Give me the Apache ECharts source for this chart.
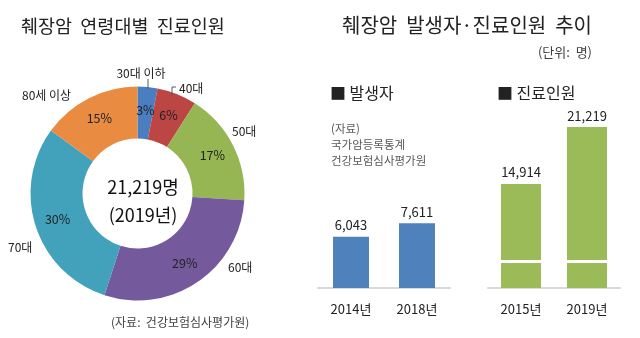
<!DOCTYPE html>
<html><head><meta charset="utf-8">
<script src="https://cdn.jsdelivr.net/npm/echarts@6/dist/echarts.min.js"></script>
<style>html,body{margin:0;padding:0;background:#fff}#c{width:640px;height:338px}</style>
</head><body><div id="c"></div>
<script>
const ageGroups = ['30대 이하', '40대', '50대', '60대', '70대', '80세 이상'];
const agePercents = [3, 6, 17, 29, 30, 15];
const totalPatients = '21,219명';
const totalYear = '(2019년)';
const incidenceYears = ['2014년', '2018년'];
const incidenceValues = [6043, 7611];
const patientYears = ['2015년', '2019년'];
const patientValues = [14914, 21219];
const patientBreak = {start: 3000, end: 6400};

const FONT = '"Noto Sans CJK KR", "Noto Sans", sans-serif';
const colors = ['#4A7EC0', '#BC4644', '#95B652', '#745A9C', '#42A2BC', '#E98C42'];
// label anchor positions for the outside category names
const nameLabelPos = [[141, 73], [179, 88], [232, 131], [228, 267], [8, 247], [22, 95]];
const nameLabelAlign = ['center', 'left', 'left', 'left', 'left', 'left'];

const chart = echarts.init(document.getElementById('c'), null, {renderer: 'canvas'});
const fmt = v => v.toLocaleString('en-US');

const option = {
  animation: false,
  textStyle: {fontFamily: FONT},
  title: [
    {text: '췌장암  연령대별  진료인원', left: 16, top: 12, textStyle: {fontFamily: FONT, fontSize: 18.5, fontWeight: 'normal', color: '#222'}},
    {text: '췌장암  발생자·진료인원  추이', left: 337, top: 10, textStyle: {fontFamily: FONT, fontSize: 20, fontWeight: 'normal', color: '#222'}},
    {text: '(단위:  명)', right: 43, top: 41, textStyle: {fontFamily: FONT, fontSize: 13, fontWeight: 'normal', color: '#404040'}},
    {text: '■ 발생자', left: 325, top: 80, textStyle: {fontFamily: FONT, fontSize: 16, fontWeight: 'normal', color: '#222'}},
    {text: '■ 진료인원', left: 492, top: 80, textStyle: {fontFamily: FONT, fontSize: 16, fontWeight: 'normal', color: '#222'}},
    {text: '(자료)\n국가암등록통계\n건강보험심사평가원', left: 326, top: 116, textStyle: {fontFamily: FONT, fontSize: 11.5, lineHeight: 16, fontWeight: 'normal', color: '#595959'}},
    {text: '(자료:  건강보험심사평가원)', left: 106, top: 311, textStyle: {fontFamily: FONT, fontSize: 12, fontWeight: 'normal', color: '#404040'}},
    {text: totalPatients + '\n' + totalYear, left: 138, top: 168, textAlign: 'center', textStyle: {fontFamily: FONT, fontSize: 18, lineHeight: 28, fontWeight: 'normal', color: '#111'}}
  ],
  grid: [
    {left: 318, width: 132, top: 118, bottom: 50},
    {left: 488, width: 132, top: 102, bottom: 50}
  ],
  xAxis: [
    {type: 'category', gridIndex: 0, data: incidenceYears, axisTick: {show: false},
     axisLine: {lineStyle: {color: '#d9d9d9', width: 2}},
     axisLabel: {fontFamily: FONT, fontSize: 13, color: '#222', margin: 15}},
    {type: 'category', gridIndex: 1, data: patientYears, axisTick: {show: false},
     axisLine: {lineStyle: {color: '#d9d9d9', width: 2}},
     axisLabel: {fontFamily: FONT, fontSize: 13, color: '#222', margin: 15}}
  ],
  yAxis: [
    {type: 'value', gridIndex: 0, min: 0, max: 20000, show: false, splitLine: {show: false}},
    {type: 'value', gridIndex: 1, min: 0, max: 24000, show: false, splitLine: {show: false}, z: 10,
     breaks: [{start: patientBreak.start, end: patientBreak.end, gap: 3}],
     breakArea: {show: true, zigzagAmplitude: 0, zigzagZ: 100, expandOnClick: false,
       itemStyle: {color: '#ffffff', borderColor: '#ffffff', borderWidth: 0, opacity: 1}}}
  ],
  series: [
    {
      type: 'pie', center: [137.5, 193.5], radius: [55, 107], startAngle: 90, clockwise: true,
      silent: true,
      data: ageGroups.map((n, i) => ({name: n, value: agePercents[i], itemStyle: {color: colors[i]}})),
      label: {position: 'inside', formatter: '{c}%', fontFamily: FONT, fontSize: 12.5, color: '#222'},
      labelLine: {show: false}
    },
    {
      type: 'pie', center: [137.5, 193.5], radius: [55, 107], startAngle: 90, clockwise: true,
      silent: true, z: 3,
      data: ageGroups.map((n, i) => ({name: n, value: agePercents[i], itemStyle: {color: 'rgba(0,0,0,0)'},
        labelLine: {show: i < 2}})),
      label: {position: 'outside', formatter: '{b}', fontFamily: FONT, fontSize: 12, color: '#222',
              overflow: 'none', width: 100, alignTo: 'none'},
      labelLine: {lineStyle: {color: '#595959', width: 1}},
      labelLayout: function (p) {
        const i = p.dataIndex;
        const res = {x: nameLabelPos[i][0], y: nameLabelPos[i][1], align: nameLabelAlign[i], verticalAlign: 'middle', hideOverlap: false, moveOverlap: false};
        if (i === 0) res.labelLinePoints = [[148, 89], [148, 84], [148, 79]];
        if (i === 1) res.labelLinePoints = [[172, 96], [172, 87], [176, 87]];
        return res;
      }
    },
    {
      type: 'bar', xAxisIndex: 0, yAxisIndex: 0, data: incidenceValues, barWidth: 36,
      itemStyle: {color: '#4F81BD'},
      label: {show: true, position: 'top', distance: 5, formatter: p => fmt(p.value), fontFamily: FONT, fontSize: 13, color: '#222'}
    },
    {
      type: 'bar', xAxisIndex: 1, yAxisIndex: 1, data: patientValues, barWidth: 40,
      itemStyle: {color: '#9BBB59'},
      label: {show: true, position: 'top', distance: 5, formatter: p => fmt(p.value), fontFamily: FONT, fontSize: 13, color: '#222'},
      markLine: {silent: true, symbol: 'none', label: {show: false}, z: 20,
        lineStyle: {color: '#ffffff', width: 3, type: 'solid'},
        data: [{yAxis: patientBreak.start}]}
    }
  ]
};
chart.setOption(option);
</script></body></html>
